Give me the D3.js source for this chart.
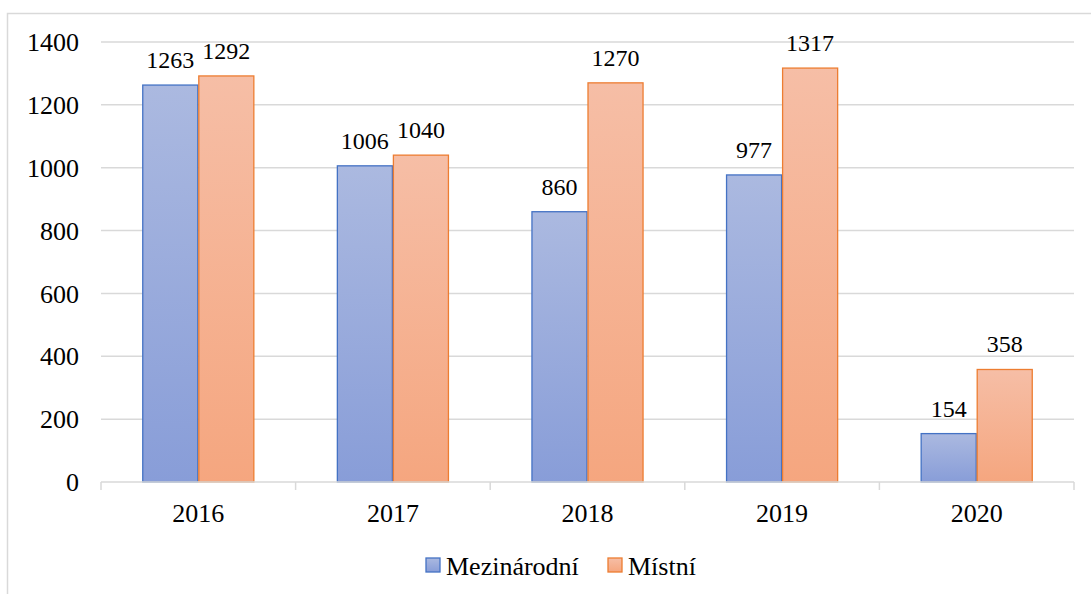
<!DOCTYPE html>
<html>
<head>
<meta charset="utf-8">
<script src="https://cdn.jsdelivr.net/npm/d3@7"></script>
</head>
<body style="margin:0">
<svg id="chart" width="1091" height="594"></svg>
<script>
// data
const years = ["2016", "2017", "2018", "2019", "2020"];
const mezinarodni = [1263, 1006, 860, 977, 154];
const mistni = [1292, 1040, 1270, 1317, 358];
const seriesNames = ["Mezinárodní", "Místní"];
const yTicks = [0, 200, 400, 600, 800, 1000, 1200, 1400];

const svg = d3.select("#chart");
const plot = { left: 101, right: 1074, top: 42, bottom: 482 };
const serif = '"Liberation Serif"';
const axisFont = 26;
const labelFont = 24;

// gradients for the bars (light at the top, darker at the base)
const defs = svg.append("defs");
const gradBlue = defs.append("linearGradient").attr("id", "gBlue")
    .attr("x1", 0).attr("y1", 0).attr("x2", 0).attr("y2", 1);
gradBlue.append("stop").attr("offset", "0%").attr("stop-color", "#abb9e0");
gradBlue.append("stop").attr("offset", "100%").attr("stop-color", "#889dd8");
const gradOrange = defs.append("linearGradient").attr("id", "gOrange")
    .attr("x1", 0).attr("y1", 0).attr("x2", 0).attr("y2", 1);
gradOrange.append("stop").attr("offset", "0%").attr("stop-color", "#f6bea6");
gradOrange.append("stop").attr("offset", "100%").attr("stop-color", "#f5a67f");

const fills = ["url(#gBlue)", "url(#gOrange)"];
const strokes = ["#4472c4", "#ed7d31"];

// chart frame (runs off the right and bottom edges)
svg.append("rect")
    .attr("x", 7.5).attr("y", 13.5)
    .attr("width", 1200).attr("height", 700)
    .attr("fill", "none").attr("stroke", "#d9d9d9").attr("stroke-width", 1.5);

const x0 = d3.scaleBand().domain(years).range([plot.left, plot.right]).padding(0);
const x1 = d3.scaleBand().domain(seriesNames)
    .range([x0.bandwidth() * 0.212, x0.bandwidth() * 0.788]).padding(0);
const y = d3.scaleLinear().domain([0, 1400]).range([plot.bottom, plot.top]);

// horizontal gridlines
svg.append("g").selectAll("line")
    .data(yTicks.filter(d => d > 0))
    .join("line")
    .attr("x1", plot.left).attr("x2", plot.right)
    .attr("y1", d => y(d)).attr("y2", d => y(d))
    .attr("stroke", "#d9d9d9").attr("stroke-width", 1.5);

// y axis labels
svg.append("g").selectAll("text")
    .data(yTicks)
    .join("text")
    .attr("x", 79).attr("y", d => y(d))
    .attr("dy", "0.35em")
    .attr("text-anchor", "end")
    .attr("font-size", axisFont)
    .style("font-family", serif)
    .text(d => d);

// bars
const rows = years.map((yr, i) => ({ year: yr, values: [mezinarodni[i], mistni[i]] }));
const groups = svg.append("g").selectAll("g")
    .data(rows)
    .join("g")
    .attr("transform", d => `translate(${x0(d.year)},0)`);

groups.selectAll("rect")
    .data(d => d.values.map((v, k) => ({ name: seriesNames[k], value: v, k })))
    .join("rect")
    .attr("x", d => x1(d.name) + 0.5)
    .attr("y", d => y(d.value))
    .attr("width", x1.bandwidth() - 1)
    .attr("height", d => plot.bottom - y(d.value))
    .attr("fill", d => fills[d.k])
    .attr("stroke", d => strokes[d.k])
    .attr("stroke-width", 1.3);

groups.selectAll("text")
    .data(d => d.values.map((v, k) => ({ name: seriesNames[k], value: v })))
    .join("text")
    .attr("x", d => x1(d.name) + x1.bandwidth() / 2)
    .attr("y", d => y(d.value) - 17)
    .attr("text-anchor", "middle")
    .attr("font-size", labelFont)
    .style("font-family", serif)
    .text(d => d.value);

// x axis
const xAxis = svg.append("g").attr("transform", `translate(0,${plot.bottom})`);
xAxis.append("line")
    .attr("x1", plot.left).attr("x2", plot.right)
    .attr("stroke", "#d9d9d9").attr("stroke-width", 1.5);
xAxis.selectAll("line.tick")
    .data(years.map(d => x0(d)).concat([plot.right]))
    .join("line")
    .attr("class", "tick")
    .attr("x1", d => d).attr("x2", d => d)
    .attr("y1", 0).attr("y2", 8)
    .attr("stroke", "#d9d9d9").attr("stroke-width", 1.5);
xAxis.selectAll("text")
    .data(years)
    .join("text")
    .attr("x", d => x0(d) + x0.bandwidth() / 2)
    .attr("y", 40)
    .attr("text-anchor", "middle")
    .attr("font-size", axisFont)
    .style("font-family", serif)
    .text(d => d);

// legend
const legend = svg.append("g").attr("transform", "translate(0,565)");
const legendX = [426, 608];
seriesNames.forEach((name, k) => {
    legend.append("rect")
        .attr("x", legendX[k]).attr("y", -7)
        .attr("width", 14).attr("height", 14)
        .attr("fill", fills[k]).attr("stroke", strokes[k]).attr("stroke-width", 1.3);
    legend.append("text")
        .attr("x", legendX[k] + 20).attr("y", 10)
        .attr("font-size", axisFont)
        .style("font-family", serif)
        .text(name);
});
</script>
</body>
</html>
